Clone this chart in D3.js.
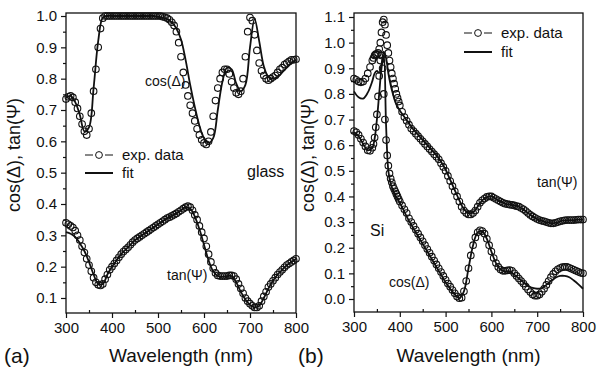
<!DOCTYPE html>
<html>
<head>
<meta charset="utf-8">
<script src="https://cdn.jsdelivr.net/npm/d3@7"></script>
<style>
  body { margin: 0; background: #fff; }
  text { font-family: "Liberation Sans", Arial, sans-serif; fill: #111; }
</style>
</head>
<body>
<svg id="chart"></svg>
<script>
// wavelength grids (nm)
var wlA = d3.range(300, 801, 5);
var wlB = d3.range(300, 340, 5).concat(d3.range(340, 400, 2.5), d3.range(400, 801, 5));
var fitWlA = d3.range(300, 801, 10);
var fitWlB = d3.range(300, 340, 10).concat(d3.range(340, 400, 5), d3.range(400, 801, 10));

// panel (a): glass, measured
var cosExpA = [0.735, 0.742, 0.745, 0.74, 0.725, 0.705, 0.68, 0.655, 0.632, 0.62,
  0.64, 0.69, 0.76, 0.83, 0.9, 0.96, 0.993, 1.0, 1.0, 1.0,
  1.0, 1.0, 1.0, 1.0, 1.0, 1.0, 1.0, 1.0, 1.0, 1.0,
  1.0, 1.0, 1.0, 1.0, 1.0, 1.0, 1.0, 1.0, 1.0, 1.0,
  1.0, 1.0, 0.998, 0.996, 0.993, 0.988, 0.98, 0.97, 0.95, 0.915,
  0.87, 0.82, 0.78, 0.745, 0.715, 0.69, 0.665, 0.64, 0.62, 0.605,
  0.595, 0.59, 0.6, 0.63, 0.68, 0.73, 0.77, 0.8, 0.82, 0.83,
  0.83, 0.815, 0.79, 0.77, 0.755, 0.75, 0.76, 0.8, 0.87, 0.95,
  0.995, 0.985, 0.94, 0.89, 0.85, 0.825, 0.81, 0.8, 0.795, 0.8,
  0.805, 0.81, 0.82, 0.83, 0.835, 0.845, 0.85, 0.855, 0.86, 0.86, 0.862];
var tanExpA = [0.34, 0.335, 0.33, 0.325, 0.315, 0.3, 0.285, 0.265, 0.245, 0.225,
  0.205, 0.185, 0.165, 0.15, 0.142, 0.14, 0.145, 0.16, 0.175, 0.19,
  0.2, 0.21, 0.22, 0.23, 0.24, 0.248, 0.255, 0.262, 0.27, 0.278,
  0.285, 0.29, 0.295, 0.3, 0.305, 0.31, 0.315, 0.32, 0.325, 0.33,
  0.335, 0.34, 0.345, 0.35, 0.355, 0.358, 0.362, 0.366, 0.37, 0.375,
  0.38, 0.385, 0.39, 0.393, 0.39, 0.38, 0.365, 0.35, 0.33, 0.31,
  0.29, 0.265, 0.24, 0.215, 0.195, 0.18, 0.172, 0.17, 0.17, 0.17,
  0.17, 0.172, 0.172, 0.17, 0.16, 0.145, 0.13, 0.115, 0.1, 0.09,
  0.082, 0.075, 0.07, 0.07, 0.075, 0.09, 0.105, 0.12, 0.135, 0.145,
  0.155, 0.165, 0.175, 0.183, 0.19, 0.198, 0.205, 0.21, 0.215, 0.22, 0.225];
// panel (a): fit
var cosFitA = [0.74, 0.745, 0.725, 0.685, 0.632, 0.645, 0.77, 0.92, 0.995, 1.0,
  1.0, 1.0, 1.0, 1.0, 1.0, 1.0, 1.0, 1.0, 1.0, 1.0,
  0.998, 0.995, 0.99, 0.98, 0.96, 0.925, 0.86, 0.78, 0.71, 0.65,
  0.61, 0.595, 0.61, 0.7, 0.79, 0.835, 0.83, 0.785, 0.76, 0.78,
  0.9, 0.99, 0.92, 0.84, 0.805, 0.8, 0.805, 0.82, 0.835, 0.85, 0.86];
var tanFitA = [0.31, 0.305, 0.295, 0.275, 0.25, 0.215, 0.175, 0.145, 0.145, 0.175,
  0.2, 0.22, 0.24, 0.255, 0.27, 0.285, 0.295, 0.305, 0.315, 0.325,
  0.335, 0.345, 0.355, 0.362, 0.37, 0.38, 0.39, 0.385, 0.36, 0.32,
  0.27, 0.22, 0.185, 0.17, 0.168, 0.17, 0.17, 0.15, 0.12, 0.095,
  0.078, 0.07, 0.075, 0.1, 0.13, 0.155, 0.175, 0.19, 0.205, 0.215, 0.225];

// panel (b): Si, measured
var cosExpB = [0.655, 0.65, 0.64, 0.625, 0.61, 0.595, 0.58, 0.578,
  0.59, 0.605, 0.63, 0.67, 0.72, 0.79, 0.87, 0.93, 0.95, 0.9, 0.8, 0.7,
  0.62, 0.56, 0.52, 0.49, 0.47, 0.455, 0.44, 0.43, 0.42, 0.41, 0.4, 0.39,
  0.38, 0.365, 0.35, 0.335, 0.315, 0.3, 0.285, 0.27, 0.255, 0.24,
  0.225, 0.21, 0.195, 0.18, 0.165, 0.15, 0.135, 0.12, 0.105, 0.09,
  0.075, 0.06, 0.048, 0.035, 0.022, 0.01, 0.003, 0.005, 0.03, 0.07,
  0.12, 0.17, 0.21, 0.24, 0.26, 0.268, 0.265, 0.255, 0.235, 0.21,
  0.185, 0.16, 0.14, 0.125, 0.115, 0.11, 0.11, 0.112, 0.113, 0.11,
  0.1, 0.09, 0.08, 0.07, 0.06, 0.048, 0.037, 0.027, 0.018, 0.013,
  0.013, 0.018, 0.028, 0.04, 0.055, 0.07, 0.085, 0.098, 0.108, 0.116,
  0.121, 0.124, 0.125, 0.125, 0.122, 0.118, 0.114, 0.11, 0.106, 0.102, 0.1];
var tanExpB = [0.86, 0.855, 0.848, 0.845, 0.848, 0.86, 0.88, 0.905,
  0.93, 0.94, 0.95, 0.955, 0.955, 0.96, 0.975, 1.0, 1.04, 1.08, 1.09, 1.07,
  1.03, 0.99, 0.96, 0.93, 0.905, 0.88, 0.86, 0.84, 0.82, 0.8, 0.785, 0.77,
  0.755, 0.73, 0.71, 0.695, 0.68, 0.665, 0.655, 0.645, 0.635, 0.625,
  0.615, 0.605, 0.595, 0.585, 0.575, 0.565, 0.555, 0.545, 0.53, 0.515,
  0.5, 0.48, 0.46, 0.44, 0.42, 0.4, 0.38, 0.36, 0.345, 0.335,
  0.33, 0.33, 0.335, 0.345, 0.36, 0.375, 0.385, 0.392, 0.398, 0.4,
  0.4, 0.395, 0.39, 0.385, 0.38, 0.375, 0.372, 0.37, 0.368, 0.367,
  0.365, 0.362, 0.36, 0.355, 0.35, 0.343, 0.335, 0.328, 0.322, 0.317,
  0.312, 0.308, 0.305, 0.303, 0.3, 0.297, 0.295, 0.295, 0.297, 0.3,
  0.303, 0.305, 0.307, 0.308, 0.308, 0.308, 0.308, 0.309, 0.31, 0.31, 0.31];
// panel (b): fit
var cosFitB = [0.65, 0.635, 0.605, 0.58,
  0.59, 0.625, 0.7, 0.8, 0.9, 0.95, 0.68, 0.5, 0.45, 0.425, 0.405, 0.39,
  0.375, 0.34, 0.305, 0.275, 0.245, 0.215, 0.185, 0.155, 0.125, 0.095,
  0.065, 0.04, 0.018, 0.003, 0.03, 0.12, 0.21, 0.26, 0.265, 0.235,
  0.185, 0.14, 0.115, 0.108, 0.108, 0.095, 0.08, 0.065, 0.052, 0.043,
  0.04, 0.043, 0.055, 0.07, 0.083, 0.09, 0.09, 0.085, 0.072, 0.057, 0.04];
var tanFitB = [0.81, 0.787, 0.782, 0.805,
  0.85, 0.88, 0.89, 0.882, 0.915, 0.965, 0.94, 0.88, 0.835, 0.8, 0.77, 0.75,
  0.735, 0.71, 0.685, 0.66, 0.64, 0.62, 0.6, 0.58, 0.56, 0.535,
  0.505, 0.465, 0.425, 0.385, 0.35, 0.335, 0.338, 0.36, 0.385, 0.398,
  0.4, 0.39, 0.38, 0.372, 0.368, 0.365, 0.36, 0.35, 0.335, 0.322,
  0.312, 0.305, 0.3, 0.296, 0.297, 0.303, 0.307, 0.308, 0.308, 0.31, 0.31];

// tick values
var xTicks = [300, 400, 500, 600, 700, 800];
var xMinor = [350, 450, 550, 650, 750];
var yTicksA = [0.1, 0.2, 0.3, 0.4, 0.5, 0.6, 0.7, 0.8, 0.9, 1.0];
var yMinorA = [0.15, 0.25, 0.35, 0.45, 0.55, 0.65, 0.75, 0.85, 0.95];
var yTicksB = [0.0, 0.1, 0.2, 0.3, 0.4, 0.5, 0.6, 0.7, 0.8, 0.9, 1.0, 1.1];
var yMinorB = [0.05, 0.15, 0.25, 0.35, 0.45, 0.55, 0.65, 0.75, 0.85, 0.95, 1.05];

var width = 597;
var height = 371;
var ink = "#111";

var svg = d3.select("#chart");
svg.attr("width", width);
svg.attr("height", height);

function drawPanel(p) {
  var g = svg.append("g");
  var x = d3.scaleLinear().domain([300, 800]).range([p.left, p.right]);
  var y = d3.scaleLinear().domain(p.yDomain).range([p.bottom, p.top]);

  // frame
  g.append("rect")
    .attr("x", p.left).attr("y", p.top)
    .attr("width", p.right - p.left).attr("height", p.bottom - p.top)
    .attr("fill", "none").attr("stroke", ink).attr("stroke-width", 1.3);

  // left axis, major + minor ticks pointing out
  g.append("g").attr("transform", "translate(" + p.left + ",0)")
    .call(d3.axisLeft(y).tickValues(p.yTicks).tickFormat(d3.format(".1f")).tickSize(5).tickPadding(4));
  g.append("g").attr("transform", "translate(" + p.left + ",0)")
    .call(d3.axisLeft(y).tickValues(p.yMinor).tickFormat("").tickSize(3));

  // bottom axis, major out, minor in
  g.append("g").attr("transform", "translate(0," + p.bottom + ")")
    .call(d3.axisBottom(x).tickValues(xTicks).tickSize(5).tickPadding(4));
  g.append("g").attr("transform", "translate(0," + p.bottom + ")")
    .call(d3.axisBottom(x).tickValues(xMinor).tickFormat("").tickSize(-3));

  g.selectAll(".domain").remove();
  g.selectAll(".tick line").attr("stroke", ink).attr("stroke-width", 1.2);
  g.selectAll(".tick text").style("font-size", "15px").style("font-family", "Liberation Sans, Arial, sans-serif").attr("fill", ink);

  // fit lines
  var fitLine = d3.line().x(function (d) { return x(d[0]); }).y(function (d) { return y(d[1]); }).curve(d3.curveCatmullRom);
  p.fits.forEach(function (f) {
    g.append("path")
      .attr("d", fitLine(d3.zip(f.wl, f.v)))
      .attr("fill", "none").attr("stroke", ink).attr("stroke-width", 1.8);
  });

  // measured points
  p.exps.forEach(function (s) {
    g.append("g").selectAll("circle")
      .data(d3.zip(s.wl, s.v))
      .enter().append("circle")
      .attr("cx", function (d) { return x(d[0]); })
      .attr("cy", function (d) { return y(d[1]); })
      .attr("r", 3.3)
      .attr("fill", "none").attr("stroke", ink).attr("stroke-width", 1.1);
  });

  // y title
  g.append("text")
    .attr("transform", "translate(" + p.yTitleX + "," + p.yTitleY + ") rotate(-90)")
    .attr("text-anchor", "middle").style("font-size", "18px")
    .text("cos(\u0394), tan(\u03A8)");

  // x title and panel letter
  g.append("text")
    .attr("x", (p.left + p.right) / 2).attr("y", 362)
    .attr("text-anchor", "middle").style("font-size", "19px")
    .text("Wavelength (nm)");
  g.append("text")
    .attr("x", p.letterX).attr("y", 363)
    .style("font-size", "21px")
    .text(p.letter);

  // legend
  var lg = g.append("g").attr("transform", "translate(" + p.legendX + "," + p.legendY + ")");
  lg.append("line").attr("x1", 0).attr("x2", 28).attr("y1", 0).attr("y2", 0)
    .attr("stroke", ink).attr("stroke-width", 1).attr("stroke-dasharray", "8,12,8");
  lg.append("circle").attr("cx", 14).attr("cy", 0).attr("r", 3.4)
    .attr("fill", "#fff").attr("stroke", ink).attr("stroke-width", 1);
  lg.append("text").attr("x", 37).attr("y", 5).style("font-size", "15px").text("exp. data");
  lg.append("line").attr("x1", 0).attr("x2", 28).attr("y1", p.legendGap).attr("y2", p.legendGap)
    .attr("stroke", ink).attr("stroke-width", 2);
  lg.append("text").attr("x", 37).attr("y", p.legendGap + 5).style("font-size", "15px").text("fit");

  // curve labels
  p.notes.forEach(function (n) {
    g.append("text").attr("x", n.x).attr("y", n.y)
      .style("font-size", n.size + "px").text(n.t);
  });
}

drawPanel({
  left: 66, right: 296, top: 13, bottom: 313,
  yDomain: [0.0521, 1.0096],
  yTicks: yTicksA, yMinor: yMinorA,
  exps: [{ wl: wlA, v: cosExpA }, { wl: wlA, v: tanExpA }],
  fits: [{ wl: fitWlA, v: cosFitA }, { wl: fitWlA, v: tanFitA }],
  yTitleX: 20, yTitleY: 155,
  letter: "(a)", letterX: 4,
  legendX: 85, legendY: 155, legendGap: 18,
  notes: [
    { x: 145, y: 86, t: "cos(\u0394)", size: 14 },
    { x: 247, y: 177, t: "glass", size: 16 },
    { x: 167, y: 280, t: "tan(\u03A8)", size: 14 }
  ]
});

drawPanel({
  left: 354, right: 583, top: 13, bottom: 312,
  yDomain: [-0.0507, 1.1156],
  yTicks: yTicksB, yMinor: yMinorB,
  exps: [{ wl: wlB, v: cosExpB }, { wl: wlB, v: tanExpB }],
  fits: [{ wl: fitWlB, v: cosFitB }, { wl: fitWlB, v: tanFitB }],
  yTitleX: 314, yTitleY: 155,
  letter: "(b)", letterX: 298,
  legendX: 464, legendY: 33, legendGap: 19,
  notes: [
    { x: 537, y: 187, t: "tan(\u03A8)", size: 14 },
    { x: 370, y: 236, t: "Si", size: 16 },
    { x: 389, y: 287, t: "cos(\u0394)", size: 14 }
  ]
});
</script>
</body>
</html>
